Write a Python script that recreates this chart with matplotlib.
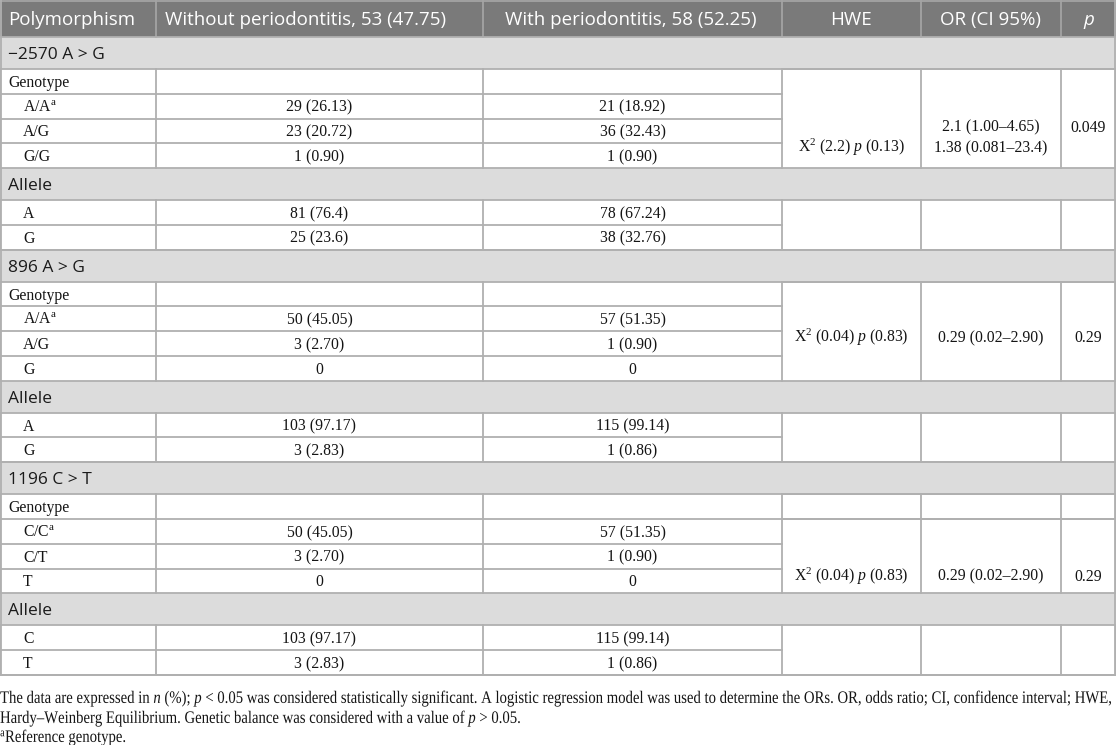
import matplotlib
matplotlib.use('Agg')
import matplotlib.pyplot as plt
from matplotlib.font_manager import FontProperties
from matplotlib.textpath import TextPath
from matplotlib.patches import PathPatch, Rectangle
from matplotlib.transforms import Affine2D

plt.rcParams['mathtext.fontset'] = 'custom'
plt.rcParams['mathtext.rm'] = 'Liberation Serif'
plt.rcParams['mathtext.it'] = 'Liberation Serif:italic'

# Table contents
columns = ['Polymorphism', 'Without periodontitis, 53 (47.75)',
           'With periodontitis, 58 (52.25)', 'HWE', 'OR (CI 95%)', 'p']
snp_names = ['\u22122570 A > G', '896 A > G', '1196 C > T']
genotype_labels = [['A/A$^{\\mathrm{a}}$', 'A/G', 'G/G'],
                   ['A/A$^{\\mathrm{a}}$', 'A/G', 'G'],
                   ['C/C$^{\\mathrm{a}}$', 'C/T', 'T']]
geno_without = [['29 (26.13)', '23 (20.72)', '1 (0.90)'],
                ['50 (45.05)', '3 (2.70)', '0'],
                ['50 (45.05)', '3 (2.70)', '0']]
geno_with = [['21 (18.92)', '36 (32.43)', '1 (0.90)'],
             ['57 (51.35)', '1 (0.90)', '0'],
             ['57 (51.35)', '1 (0.90)', '0']]
allele_labels = [['A', 'G'], ['A', 'G'], ['C', 'T']]
allele_without = [['81 (76.4)', '25 (23.6)'],
                  ['103 (97.17)', '3 (2.83)'],
                  ['103 (97.17)', '3 (2.83)']]
allele_with = [['78 (67.24)', '38 (32.76)'],
               ['115 (99.14)', '1 (0.86)'],
               ['115 (99.14)', '1 (0.86)']]
hwe = ['X$^{2}$ (2.2) $\\mathit{p}$ (0.13)',
       'X$^{2}$ (0.04) $\\mathit{p}$ (0.83)',
       'X$^{2}$ (0.04) $\\mathit{p}$ (0.83)']
odds = [['2.1 (1.00\u20134.65)', '1.38 (0.081\u201323.4)'],
        ['0.29 (0.02\u20132.90)'],
        ['0.29 (0.02\u20132.90)']]
pvals = ['0.049', '0.29', '0.29']
footnotes = ['The data are expressed in $\\mathit{n}$ (%); $\\mathit{p}$ < 0.05 was considered statistically '
             'significant. A logistic regression model was used to determine the ORs. OR, odds ratio; '
             'CI, confidence interval; HWE,',
             'Hardy\u2013Weinberg Equilibrium. Genetic balance was considered with a value of $\\mathit{p}$ > 0.05.',
             '$^{\\mathrm{a}}$Reference genotype.']

# layout (pixels)
W, H = 1116, 745
col_edges = [0, 156, 483, 782, 921, 1061, 1116]
header_dx = [0, -14, -2, 0, 0, 0]
header_h, band_h, row_h = 37, 32.2, 24.7
stat_offset = [21, 44, 18]
line_c = '#b0b0b0'
lw = 1.3
sans = 'Open Sans'
serif = 'Liberation Serif'
fs_head = 13.5
fs_band = 12.5
fs_serif = 11.3

fig = plt.figure(figsize=(W / 100, H / 100), dpi=100)
ax = fig.add_axes([0, 0, 1, 1])
ax.set_xlim(0, W)
ax.set_ylim(H, 0)
ax.axis('off')


def hline(y, x0, x1, c=line_c):
    ax.plot([x0, x1], [y, y], color=c, lw=lw, solid_capstyle='projecting', zorder=3)


def vline(x, y0, y1, c=line_c):
    ax.plot([x, x], [y0, y1], color=c, lw=lw, solid_capstyle='projecting', zorder=3)


def cell(x, yc, s, ha='center', **kw):
    ax.text(x, yc + 5.5, s, ha=ha, va='baseline', family=serif, fontsize=fs_serif,
            color='#141414', **kw)


def band_text(yc, s):
    ax.text(8, yc + 6, s, ha='left', va='baseline', family=sans, fontsize=fs_band,
            color='#1a1a1a')


def mid(i):
    return (col_edges[i] + col_edges[i + 1]) / 2


# header
ax.add_patch(Rectangle((0, 0), W, header_h, fc='#7a7a7a', ec='none', zorder=1))
for i, name in enumerate(columns):
    x = col_edges[0] + 8 if i == 0 else mid(i) + header_dx[i]
    ax.text(x, header_h / 2 + 6.5, name, ha='left' if i == 0 else 'center', va='baseline',
            family=sans, fontsize=fs_head, color='white',
            style='italic' if name == 'p' else 'normal', zorder=4)
for x in col_edges[1:-1]:
    vline(x, 0, header_h, c='#a4a4a4')

y = header_h
for g in range(len(snp_names)):
    # polymorphism band
    ax.add_patch(Rectangle((0, y), W, band_h, fc='#dcdcdc', ec='none', zorder=1))
    band_text(y + band_h / 2, snp_names[g])
    hline(y, 0, W)
    y += band_h
    hline(y, 0, W)

    # genotype rows
    top = y
    labels = ['Genotype'] + genotype_labels[g]
    wo = [''] + geno_without[g]
    wi = [''] + geno_with[g]
    for r in range(len(labels)):
        yc = y + row_h / 2
        cell(8 if r == 0 else 23, yc, labels[r], ha='left')
        cell(mid(1), yc, wo[r])
        cell(mid(2), yc, wi[r])
        y += row_h
        hline(y, 0, col_edges[3])
    for x in col_edges:
        vline(x, top, y)
    blocks = [(top, top + row_h), (top + row_h, y)] if g == 2 else [(top, y)]
    for b0, b1 in blocks:
        hline(b0, col_edges[3], W)
        hline(b1, col_edges[3], W)
    sy = y - stat_offset[g]
    cell(mid(3), sy, hwe[g])
    n = len(odds[g])
    for k, line in enumerate(odds[g]):
        cell(mid(4), sy - 21 * (n - 1 - k), line)
    cell(mid(5), sy - 21 * (n - 1), pvals[g])

    # allele band
    ax.add_patch(Rectangle((0, y), W, band_h, fc='#dcdcdc', ec='none', zorder=1))
    band_text(y + band_h / 2, 'Allele')
    y += band_h
    hline(y, 0, W)
    top = y
    for r in range(len(allele_labels[g])):
        yc = y + row_h / 2
        cell(23, yc, allele_labels[g][r], ha='left')
        cell(mid(1), yc, allele_without[g][r])
        cell(mid(2), yc, allele_with[g][r])
        y += row_h
        hline(y, 0, col_edges[3])
    hline(y, 0, W)
    for x in col_edges:
        vline(x, top, y)

# outer frame
table_bottom = y
hline(0.6, 0, W, c='#a4a4a4')
vline(0.6, 0, table_bottom)
vline(W - 0.6, 0, table_bottom)
hline(table_bottom, 0, W)

# footnotes (condensed serif drawn as paths)
fp = FontProperties(family=serif)
fsize = 17.5
paths = [TextPath((0, 0), s, size=fsize, prop=fp) for s in footnotes]
sx = 1111 / paths[0].get_extents().x1
baselines = [703, 723, 742]
for tp, yb in zip(paths, baselines):
    p = Affine2D().scale(sx, -1).translate(0, yb).transform_path(tp)
    ax.add_patch(PathPatch(p, fc='#141414', ec='none', lw=0))

fig.savefig('out.png', dpi=100)
